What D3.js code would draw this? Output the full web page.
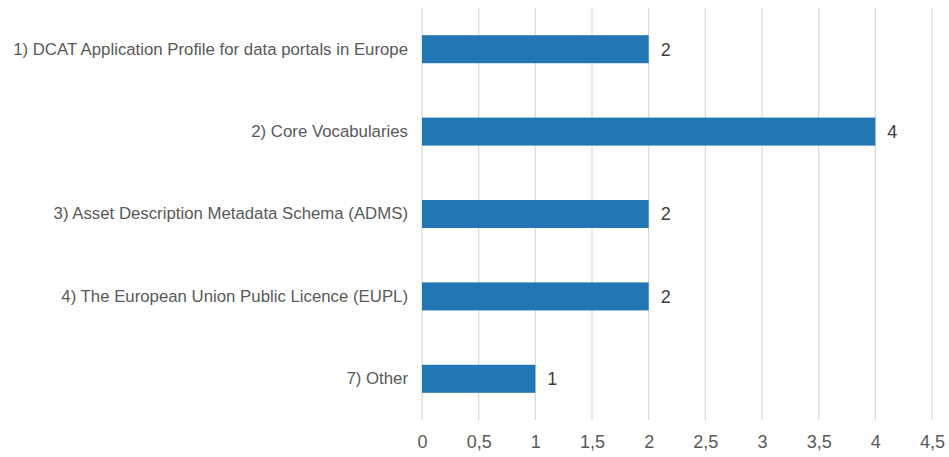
<!DOCTYPE html>
<html>
<head>
<meta charset="utf-8">
<script src="https://cdn.jsdelivr.net/npm/d3@7"></script>
<style>
  body { margin: 0; background: #fff; }
  svg { font-family: "Liberation Sans", Arial, sans-serif; }
</style>
</head>
<body>
<div id="canva"></div>
<script>
const categories = [
  "1) DCAT Application Profile for data portals in Europe",
  "2) Core Vocabularies",
  "3) Asset Description Metadata Schema (ADMS)",
  "4) The European Union Public Licence (EUPL)",
  "7) Other"
];
const values = [2, 4, 2, 2, 1];
const tickValues = [0, 0.5, 1, 1.5, 2, 2.5, 3, 3.5, 4, 4.5];

const width = 949, height = 457;
const margin = { top: 8, right: 17, bottom: 37, left: 422 };
const iwidth = width - margin.left - margin.right;
const iheight = height - margin.top - margin.bottom;

const svg = d3.select("#canva").append("svg")
  .attr("width", width)
  .attr("height", height);

const g = svg.append("g")
  .attr("transform", `translate(${margin.left},${margin.top})`);

const x = d3.scaleLinear().domain([0, 4.5]).range([0, iwidth]);
const y = d3.scaleBand()
  .domain(categories)
  .range([0, iheight])
  .paddingInner(0.66)
  .paddingOuter(0.33);

// gridlines
g.selectAll(".grid")
  .data(tickValues)
  .enter()
  .append("line")
  .attr("class", "grid")
  .attr("x1", d => x(d))
  .attr("x2", d => x(d))
  .attr("y1", 0)
  .attr("y2", iheight)
  .attr("stroke", "#d9d9d9")
  .attr("stroke-width", 1.2);

const data = categories.map((c, i) => ({ name: c, value: values[i] }));

g.selectAll("rect")
  .data(data)
  .enter()
  .append("rect")
  .attr("x", x(0))
  .attr("y", d => y(d.name))
  .attr("width", d => x(d.value) - x(0))
  .attr("height", y.bandwidth())
  .style("fill", "#2176b3");

g.selectAll(".val")
  .data(data)
  .enter()
  .append("text")
  .attr("class", "val")
  .attr("x", d => x(d.value) + 12)
  .attr("y", d => y(d.name) + y.bandwidth() / 2)
  .attr("dy", "0.36em")
  .attr("font-size", 18)
  .attr("fill", "#404040")
  .text(d => d.value);

// category labels
const yAxis = g.append("g")
  .call(d3.axisLeft(y).tickSize(0).tickPadding(14));
yAxis.select(".domain").remove();
yAxis.selectAll("text")
  .attr("font-size", 16.8)
  .attr("font-family", "Liberation Sans, Arial, sans-serif")
  .attr("fill", "#595959");

// x axis
const fmt = d => String(d).replace(".", ",");
const xAxis = g.append("g")
  .attr("transform", `translate(0,${iheight})`)
  .call(d3.axisBottom(x).tickValues(tickValues).tickFormat(fmt).tickSize(0).tickPadding(15));
xAxis.select(".domain").remove();
xAxis.selectAll("text")
  .attr("font-size", 18)
  .attr("font-family", "Liberation Sans, Arial, sans-serif")
  .attr("fill", "#595959");
</script>
</body>
</html>
